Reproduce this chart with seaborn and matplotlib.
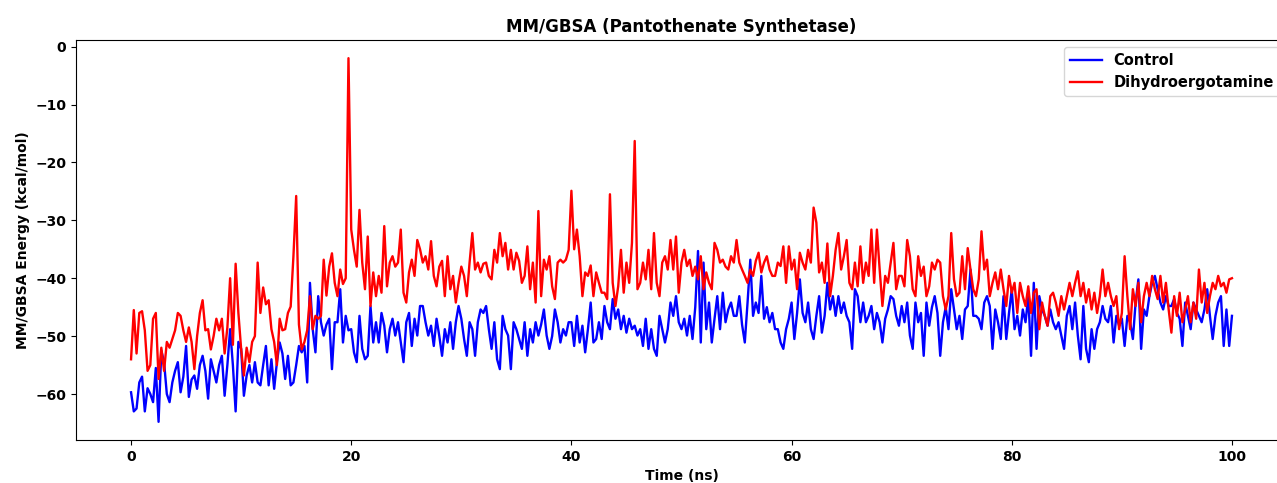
import numpy as np
import pandas as pd
import matplotlib
matplotlib.use("Agg")
import matplotlib.pyplot as plt
import seaborn as sns

title = "MM/GBSA (Pantothenate Synthetase)"
xlabel = "Time (ns)"
ylabel = "MM/GBSA Energy (kcal/mol)"
series_names = ["Control", "Dihydroergotamine"]
series_colors = ["blue", "red"]

control = [
    -59.7, -63, -62.5, -58, -57, -63, -59, -60, -61.4, -55.5,
    -64.8, -52.5, -54.5, -60, -61.4, -58, -56, -54.5, -59.7, -57,
    -51.7, -60.5, -57.5, -56.8, -59.1, -55, -53.4, -56, -60.8, -54,
    -56, -58, -55, -53.4, -60.3, -55, -48.8, -55, -63, -51,
    -52.2, -60.3, -56.8, -55, -58, -54.5, -58, -58.5, -55, -51.7,
    -58.5, -54, -59.1, -54.5, -51.1, -53, -57.4, -53.4, -58.5, -58,
    -55, -51.7, -52.8, -51.7, -58, -40.8, -48.8, -52.8, -43.1, -47.6,
    -49.9, -48, -47, -55.7, -47.6, -47.6, -41.9, -51.1, -46.5, -49,
    -48.8, -52.8, -54.5, -46.5, -52.2, -54, -53.4, -44.8, -51.1, -47.6,
    -51.1, -46, -48.2, -52.8, -48.8, -47, -49.9, -47.6, -51.1, -54.5,
    -47.6, -46, -51.7, -47, -49.9, -44.8, -44.8, -47.6, -49.9, -48.2,
    -51.7, -47, -50, -53.4, -48.8, -51.1, -47.6, -52.2, -47.6, -44.8,
    -47, -50.5, -53.4, -47.6, -48.8, -53.4, -47.6, -45.4, -46, -44.8,
    -48.8, -52.2, -47.6, -54, -55.7, -46.5, -48.8, -49.9, -55.7, -47.6,
    -48.8, -50.5, -52.2, -47.6, -53.4, -48.8, -51.1, -47.6, -49.9, -48,
    -45.4, -49.9, -52.2, -50, -45.4, -47.6, -51.1, -48.8, -49.9, -47.6,
    -47.6, -51.7, -46.5, -51.1, -48.2, -52.8, -48.8, -44.2, -51.1, -50.5,
    -47.6, -50.5, -44.8, -47.6, -48.8, -43.6, -47, -45.4, -48.8, -46.5,
    -49.4, -47, -48.8, -48.2, -49.9, -48.8, -51.7, -47, -52.2, -48.8,
    -52.2, -53.4, -46.5, -48.8, -51.1, -48.8, -44.2, -46.5, -43.1, -47.6,
    -48.8, -47, -49.9, -46.5, -50.5, -45, -35.3, -51.1, -37.3, -48.8,
    -44.2, -51.1, -47, -43.1, -48.8, -42.5, -47.6, -45.4, -44.2, -46.5,
    -46.5, -43.1, -48, -51.1, -44.2, -36.8, -46.5, -44.2, -46, -39.6,
    -47, -45, -47.6, -46, -48.8, -48.8, -51.1, -52.2, -48.8, -47,
    -44.2, -50.5, -46, -40.2, -46, -47.6, -44.2, -48.8, -50.5, -46.5,
    -43.1, -49.4, -46.5, -40.8, -45.4, -43.1, -46.5, -43.1, -46, -44.2,
    -46.5, -47.6, -52.2, -41.9, -43.1, -47.6, -44.2, -47.6, -46.5, -44.8,
    -48.8, -46, -47.6, -51.1, -47, -45.4, -43.1, -43.6, -46.5, -48.2,
    -44.8, -47.6, -44.2, -49.9, -52.2, -44.2, -47.6, -46, -53.4, -44.2,
    -48.2, -45, -43.1, -46, -53.4, -47.6, -45, -48.8, -41.9, -45.4,
    -48.8, -46.5, -50.5, -45.4, -44.8, -38.5, -46.5, -46.5, -47, -48.8,
    -44.2, -43.1, -44.8, -52.2, -45.4, -47.6, -50.5, -43.1, -50.5, -46,
    -41.9, -48.8, -46.5, -49.9, -45.4, -47.6, -43.1, -53.4, -40.8, -52.2,
    -43.1, -45.4, -46.5, -48.2, -45.4, -47.6, -48.8, -47.6, -49.9, -52.2,
    -46.5, -44.8, -48.8, -44.2, -49.9, -54, -44.8, -52.2, -54.5, -48.8,
    -52.2, -48.8, -47.6, -44.8, -47, -47.6, -44.8, -51.1, -46.5, -48.2,
    -47, -51.7, -46.5, -47.6, -50.5, -44.2, -40.2, -52.2, -45.4, -46.5,
    -43.1, -40.8, -39.6, -41.9, -44.2, -45.4, -43.1, -44.8, -44.8, -43.6,
    -46, -47, -51.7, -44.2, -46.5, -48.8, -44.2, -45.4, -46.5, -47.6,
    -45.4, -41.9, -46.5, -50.5, -46.5, -44.2, -43.1, -51.7, -45.4, -51.7,
    -46.5,
]

dihydroergotamine = [
    -54, -45.5, -53, -46, -45.7, -49, -56, -55, -47, -46,
    -57.4, -52, -56, -51, -52, -50.5, -49, -46, -46.5, -49,
    -51, -48.5, -51, -55.7, -50, -46, -43.8, -49, -48.8, -52.3,
    -50, -47, -49, -47, -53, -48.5, -40, -51.5, -37.5, -46,
    -52.2, -56.8, -52, -54.5, -51, -50, -37.3, -46, -41.6, -44.5,
    -43.8, -48.8, -51, -55, -47, -49, -48.8, -46, -44.9, -36.2,
    -25.8, -48, -52.3, -51, -49, -43.1, -48.8, -46.5, -47, -46.5,
    -36.8, -43, -38, -35.7, -40.8, -43.1, -38.5, -41, -40, -2,
    -31.6, -35.1, -38, -28.2, -37.3, -41.9, -32.8, -44.8, -39, -43.1,
    -39.6, -42.5, -31, -41.4, -37.3, -36.2, -38, -37.3, -31.6, -42.5,
    -44.2, -39, -36.8, -39.6, -33.4, -35, -37.3, -36.2, -38.5, -33.6,
    -39.6, -41.4, -38, -37, -43.1, -36.2, -41.9, -39.6, -44.2, -40.8,
    -38, -39.6, -43.1, -37.3, -32.2, -38.5, -37.3, -39, -37.5, -37.3,
    -39.6, -40.2, -35.1, -37.3, -32.2, -36.2, -33.9, -38.5, -35.1, -38.5,
    -35.6, -37, -40.8, -39.6, -34.5, -41.9, -37.3, -44.2, -28.4, -43.1,
    -36.8, -38.5, -36.2, -41.4, -43.6, -37.3, -36.8, -37.3, -36.8, -35.1,
    -24.9, -35, -31.6, -36.2, -43.1, -39, -39.6, -37.8, -43.1, -39,
    -40.8, -42.5, -42.5, -43.6, -25.5, -40.8, -44.8, -41.4, -35.1, -42.5,
    -37.3, -40.8, -33.9, -16.3, -41.9, -40.8, -37.3, -40.2, -35.1, -41.9,
    -32.2, -40.8, -43.1, -37.3, -36.2, -38.5, -33.4, -38.5, -32.8, -42.5,
    -37.3, -35.1, -37.9, -36.8, -39.6, -38, -40.2, -36.2, -41.9, -39,
    -40.8, -41.9, -33.9, -35.1, -37.3, -36.8, -38, -38.5, -36.2, -37.3,
    -33.4, -37.3, -38.5, -39.6, -40.8, -38.5, -39.6, -37, -35.6, -39,
    -37.3, -36.2, -38.5, -39.6, -39.6, -37.3, -37.9, -34.5, -40.8, -34.5,
    -38.5, -36.8, -41.9, -35.6, -37.3, -38.5, -35.1, -37.3, -27.8, -30.4,
    -39, -37.3, -40.8, -34, -43.1, -39.6, -35.1, -32.2, -38.5, -36.2,
    -33.4, -40.8, -41.9, -37.3, -41.4, -34.5, -40.8, -37.3, -39.6, -31.6,
    -40.8, -31.6, -38.5, -44.8, -39.6, -40.8, -37.3, -33.9, -41.9, -39.6,
    -39.6, -41.4, -33.4, -36.2, -41.9, -43.1, -36.2, -39.6, -38, -43.1,
    -41.4, -37.3, -38.5, -36.8, -37.3, -43.1, -45.4, -43.1, -32.2, -40.2,
    -43.1, -42.5, -36.2, -41.9, -34.8, -38.5, -41.9, -43.1, -40.2, -31.9,
    -38.5, -36.8, -43.1, -40.8, -39, -41.9, -38.5, -41.9, -44.8, -39.6,
    -42.5, -40.8, -46, -40.8, -43.1, -44.8, -41.4, -46, -42.5, -41.9,
    -48.8, -44.2, -46.5, -48.2, -43.1, -42.5, -44.2, -46.5, -43.1, -45.4,
    -43.1, -40.8, -43.1, -40.8, -38.8, -43.1, -40.8, -44.2, -41.9, -45.4,
    -42.5, -46, -43.1, -38.5, -43.1, -40.8, -43.1, -44.8, -43.1, -48.8,
    -46, -36.2, -43.1, -48.8, -41.9, -44.8, -40.8, -47.6, -43.1, -40.8,
    -43.1, -39.6, -41.9, -43.6, -39.6, -44.2, -40.8, -45.4, -49.4, -43.1,
    -46.5, -42.5, -47.6, -45.4, -43.1, -47.6, -44.2, -47, -38.5, -44.2,
    -40.8, -46, -43.1, -40.8, -41.9, -39.6, -41.4, -40.8, -42.5, -40.2,
    -40,
]

time_ns = np.linspace(0, 100, len(control))

df = pd.concat([
    pd.DataFrame({"Time": time_ns, "Energy": control, "System": series_names[0]}),
    pd.DataFrame({"Time": np.linspace(0, 100, len(dihydroergotamine)),
                  "Energy": dihydroergotamine, "System": series_names[1]}),
], ignore_index=True)

plt.rcParams["font.family"] = ["DejaVu Sans"]
plt.rcParams["font.weight"] = "bold"

fig = plt.figure(figsize=(12.77, 4.83), dpi=100)
ax = fig.add_axes([76 / 1277, 43 / 483, (1287 - 76) / 1277, 400 / 483])

sns.lineplot(data=df, x="Time", y="Energy", hue="System",
             palette=dict(zip(series_names, series_colors)),
             linewidth=1.7, ax=ax, estimator=None, sort=False)

ax.set_title(title, fontsize=12, fontweight="bold")
ax.set_xlabel(xlabel, fontsize=10, fontweight="bold")
ax.set_ylabel(ylabel, fontsize=10, fontweight="bold")
for lbl in ax.get_xticklabels() + ax.get_yticklabels():
    lbl.set_fontweight("bold")
    lbl.set_fontsize(10)

handles, labels = ax.get_legend_handles_labels()
ax.legend(handles, labels, loc="upper right", handlelength=2.2,
          prop={"weight": "bold", "size": 10.5})

fig.savefig("out.png", dpi=100)
